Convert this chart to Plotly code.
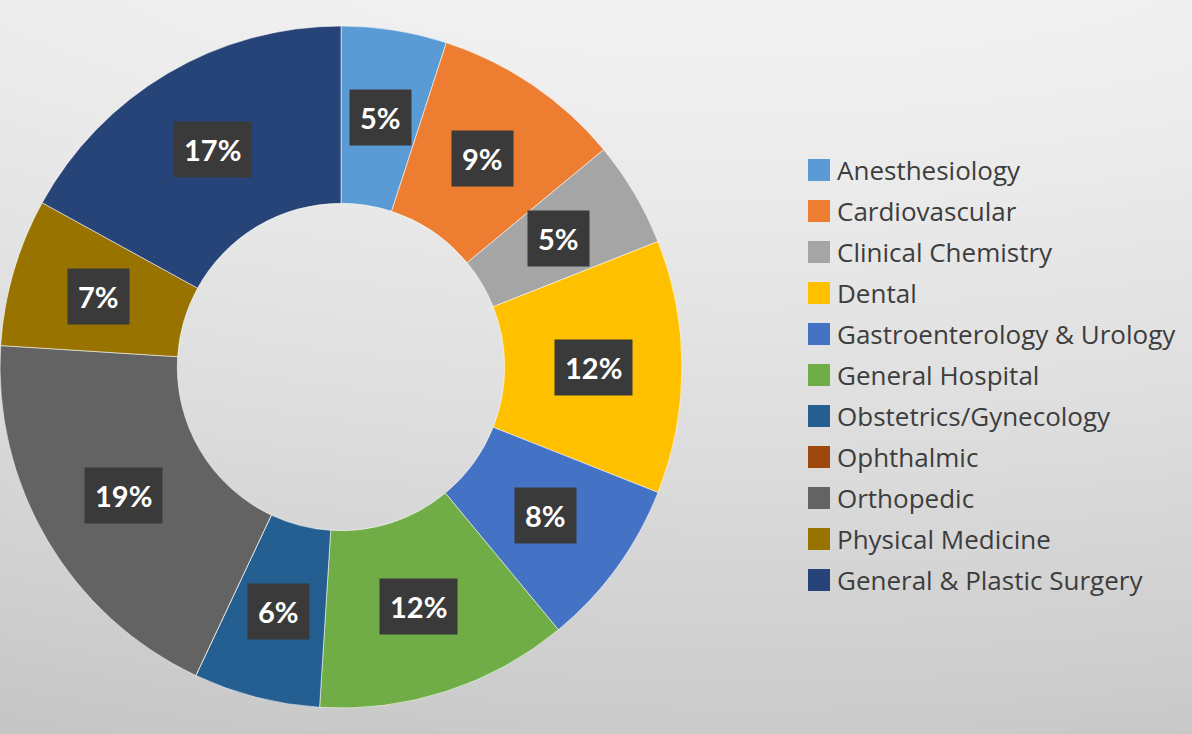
import numpy as np
import plotly.graph_objects as go

# Share of devices by medical specialty panel (percent)
categories = [
    "Anesthesiology", "Cardiovascular", "Clinical Chemistry", "Dental",
    "Gastroenterology & Urology", "General Hospital", "Obstetrics/Gynecology",
    "Ophthalmic", "Orthopedic", "Physical Medicine", "General & Plastic Surgery",
]
shares = [5, 9, 5, 12, 8, 12, 6, 0, 19, 7, 17]
colors = [
    "#5B9BD5", "#ED7D31", "#A5A5A5", "#FFC000", "#4472C4", "#70AD47",
    "#255E91", "#9E480E", "#636363", "#997300", "#264478",
]

W, H = 1192, 734
HOLE = 0.48
# donut geometry in pixels (domain x spans 0..PIE_W, full height)
PIE_W = 682
CX, CY = PIE_W / 2, H / 2
R = min(PIE_W, H) / 2

fig = go.Figure()

# soft grey backdrop, lighter towards the top
gx = np.linspace(0, W, 120)
gy = np.linspace(0, H, 80)
XX, YY = np.meshgrid(gx, gy)
shade = 241 - 39 * (YY / H) ** 1.3 - 5 * ((XX - 750) / 750) ** 2
fig.add_trace(go.Heatmap(
    x=gx, y=gy, z=shade, zmin=195, zmax=245, zsmooth="best",
    colorscale=[[0, "rgb(195,195,195)"], [1, "rgb(245,245,245)"]],
    showscale=False, hoverinfo="skip",
))

fig.add_trace(go.Pie(
    labels=categories, values=shares, hole=HOLE, sort=False,
    direction="clockwise", rotation=0,
    marker=dict(colors=colors, line=dict(color="rgba(255,255,255,0.55)", width=1)),
    textinfo="none", showlegend=False,
    domain=dict(x=[0, PIE_W / W], y=[0, 1]),
))

annotations = []
shapes = []

# percentage labels in dark boxes at the middle of each ring segment
total = sum(shares)
cum = 0.0
r_lab = R * (1 + HOLE) / 2
for val in shares:
    mid = (cum + val / 2) / total * 2 * np.pi
    cum += val
    if val <= 0:
        continue
    px = CX + r_lab * np.sin(mid)
    py = CY - r_lab * np.cos(mid)
    annotations.append(dict(
        x=px / W, y=1 - py / H, xref="paper", yref="paper",
        xanchor="center", yanchor="middle",
        text=f"<b>{val}%</b>", showarrow=False,
        font=dict(family="Lato", size=29, color="white"),
        bgcolor="#3a3a3a", borderpad=10,
    ))

# legend
LEG_X, LEG_Y0, LEG_STEP, SW = 808, 170, 41, 22
for i, (name, col) in enumerate(zip(categories, colors)):
    yc = LEG_Y0 + i * LEG_STEP
    shapes.append(dict(
        type="rect", xref="paper", yref="paper",
        x0=LEG_X / W, x1=(LEG_X + SW) / W,
        y0=1 - (yc + SW / 2) / H, y1=1 - (yc - SW / 2) / H,
        fillcolor=col, line=dict(width=0),
    ))
    annotations.append(dict(
        x=(LEG_X + SW + 5) / W, y=1 - yc / H, xref="paper", yref="paper",
        xanchor="left", yanchor="middle", text=name, showarrow=False,
        font=dict(family="Open Sans", size=26, color="#3d3d3d"),
    ))

fig.update_layout(
    width=W, height=H, margin=dict(l=0, r=0, t=0, b=0),
    paper_bgcolor="#e6e6e6", plot_bgcolor="#e6e6e6",
    xaxis=dict(range=[0, W], visible=False, domain=[0, 1], fixedrange=True),
    yaxis=dict(range=[H, 0], visible=False, domain=[0, 1], fixedrange=True),
    annotations=annotations, shapes=shapes,
)

fig.write_html("out.html")
